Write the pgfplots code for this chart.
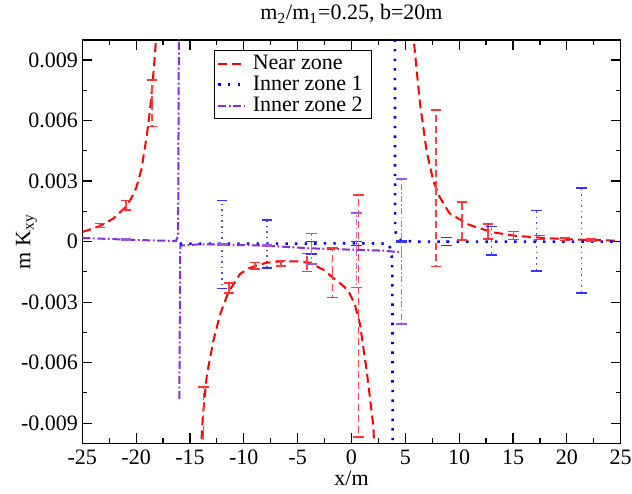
\documentclass[border=0pt]{standalone}
\usepackage{pgfplots}
\pgfplotsset{compat=1.18}
\usepackage{fontspec}
\setmainfont{Liberation Serif}
\definecolor{zonetwo}{RGB}{138,43,226}

\begin{document}
\fontsize{11}{13}\selectfont
\begin{tikzpicture}
\useasboundingbox (-41.15pt,-24.85pt) rectangle (274.85pt,221.65pt);
\begin{axis}[
    at={(0,0)}, anchor=south west,
    scale only axis, width=269.2pt, height=201.7pt,
    xmin=-25, xmax=25, ymin=-0.01, ymax=0.01,
    xtick={-25,-20,-15,-10,-5,0,5,10,15,20,25},
    xticklabels={-25,-20,-15,-10,-5,0,5,10,15,20,25},
    ytick={-0.009,-0.006,-0.003,0,0.003,0.006,0.009},
    yticklabels={-0.009,-0.006,-0.003,0,0.003,0.006,0.009},
    scaled y ticks=false, scaled x ticks=false,
    minor x tick num=1, minor y tick num=1,
    tick align=inside,
    major tick length=5pt, minor tick length=2.5pt,
    axis line style={line width=0.75pt},
    every tick/.style={black, line width=0.6pt},
    yticklabel style={inner xsep=2pt},
    xticklabel style={inner ysep=3pt},
    xlabel={x/m},
    ylabel={m K\textsubscript{xy}},
    xlabel style={at={(axis description cs:0.5,0)}, anchor=base, yshift=-20.85pt},
    ylabel style={at={(axis description cs:-0.0966,0.5)}, anchor=base},
    unbounded coords=jump,
    legend style={at={(axis description cs:0.2446,0.9752)}, anchor=north west,
        draw=black, line width=0.6pt, inner sep=1.3pt,
        nodes={inner xsep=3pt, inner ysep=0.8pt}},
    legend cell align=left,
    legend image code/.code={\draw[#1] (0pt,0pt) -- (13.5pt,0pt);},
    every errbar/.style={only marks, mark=-, mark size=0pt, forget plot,
        mark options={draw opacity=0}},
]
% near zone curve
\addplot[red, line width=1pt, dash pattern=on 4.5pt off 2.5pt] coordinates {
    (-25,0.00048) (-24.5,0.00056) (-23.3,0.00079) (-22.1,0.00115) (-21.0,0.00170)
    (-20.5,0.00210) (-20.0,0.00265) (-19.5,0.0036) (-19.0,0.0053) (-18.7,0.0066)
    (-18.45,0.0080) (-18.25,0.0093) (-18.1,0.0105)
    (-16,nan)
    (-14.0,-0.0105) (-13.8,-0.0086) (-13.43,-0.0066) (-12.82,-0.0049) (-12.2,-0.0036)
    (-11.43,-0.0025) (-10.34,-0.0016) (-9.5,-0.00132) (-8.9,-0.0012) (-7.9,-0.00105)
    (-6.5,-0.00097) (-5.0,-0.00098) (-3.85,-0.00106) (-2.6,-0.0014) (-1.7,-0.0018)
    (-0.76,-0.0022) (-0.3,-0.00244) (0.3,-0.0031) (0.79,-0.0041) (1.41,-0.0064)
    (2.02,-0.0091) (2.15,-0.0105)
    (4,nan)
    (5.7,0.0105) (5.8,0.0099) (6.05,0.0085) (6.35,0.0069) (6.97,0.0045) (7.6,0.0030)
    (8.2,0.0022) (9.1,0.0014) (10.0,0.00112) (10.7,0.00088) (11.6,0.00071)
    (13.15,0.00046) (15.0,0.0003) (17.8,0.00018) (20.9,0.0001) (25,0.00004)
};
\addlegendentry{Near zone}
% inner zone 1 curve
\addplot[blue, line width=1.3pt, dash pattern=on 1.2pt off 3.6pt] coordinates {
    (-15.95,-0.0001) (-10,-0.0001) (-5,-0.0001) (0,-0.00008) (3.4,-0.0001)
    (3.57,-0.00028) (3.73,-0.0007) (3.8,-0.0015) (3.82,-0.0105)
    (3.9,nan)
    (4.03,0.0105) (4.05,0.0006) (4.2,0.0002) (4.6,0.00005) (6,0.0) (25,0.0)
};
\addlegendentry{Inner zone 1}
% inner zone 2 curve
\addplot[zonetwo, line width=1pt, dash pattern=on 4pt off 1.3pt on 0.9pt off 1.3pt] coordinates {
    (-25,0.00018) (-21,0.0001) (-18,0.00005) (-16.3,0.00003) (-16.1,0.0003) (-16.03,0.0105)
    (-16,nan)
    (-15.99,-0.0078) (-15.9,-0.0002) (-14,-0.00013) (-12,-0.00015) (-8,-0.0002)
    (-4,-0.00033) (0,-0.0004) (3,-0.00045) (4.5,-0.00053)
};
\addlegendentry{Inner zone 2}
% error bars, near zone
\addplot[every errbar, red,
    error bars/.cd, y dir=both, y explicit,
    error bar style={draw=red!75, line width=0.8pt, dash pattern=on 3.5pt off 2pt},
    error mark=|,
    error mark options={draw=red!80, draw opacity=1, solid, line width=0.8pt, mark size=2.6pt}]
coordinates {
    (-23.35,0.0008) +- (0,0.0001)
    (-20.95,0.0018) +- (0,0.00023)
    (-18.55,0.00685) +- (0,0.00115)
    (-13.75,-0.0095) +- (0,0.0023)
    (-11.35,-0.0023) +- (0,0.00025)
    (-8.95,-0.0012) +- (0,0.00017)
    (-6.55,-0.00107) +- (0,0.00013)
    (-4.15,-0.00104) +- (0,0.00045)
    (-1.75,-0.00155) +- (0,0.00122)
    (0.65,-0.0037) +- (0,0.006)
    (7.85,0.00264) +- (0,0.00388)
    (10.25,0.00102) +- (0,0.00094)
    (12.65,0.0005) +- (0,0.00037)
    (15.05,0.0003) +- (0,0.0002)
    (17.45,0.0002) +- (0,0.0001)
    (19.85,0.00012) +- (0,0.00006)
    (22.25,0.00008) +- (0,0.00004)
};
% error bars, inner zone 1
\addplot[every errbar, blue,
    error bars/.cd, y dir=both, y explicit,
    error bar style={draw=blue!70, line width=0.8pt, dash pattern=on 0.8pt off 2pt},
    error mark=|,
    error mark options={draw=blue!80, draw opacity=1, solid, line width=0.8pt, mark size=2.6pt}]
coordinates {
    (-12.05,-0.00014) +- (0,0.00218)
    (-7.87,-0.00012) +- (0,0.0012)
    (-3.7,-0.0003) +- (0,0.0003)
    (0.48,-0.0001) +- (0,0.0001)
    (4.65,0.0) +- (0,0.00003)
    (8.83,0.0) +- (0,0.0002)
    (13.0,0.00004) +- (0,0.0007)
    (17.18,0.00005) +- (0,0.0015)
    (21.35,0.00006) +- (0,0.0026)
};
% error bars, inner zone 2
\addplot[every errbar, zonetwo,
    error bars/.cd, y dir=both, y explicit,
    error bar style={draw=zonetwo!70, line width=0.8pt, dash pattern=on 3pt off 1.2pt on 0.8pt off 1.2pt},
    error mark=|,
    error mark options={draw=zonetwo!80, draw opacity=1, solid, line width=0.8pt, mark size=2.6pt}]
coordinates {
    (-20.95,0.0001) +- (0,0.00003)
    (-12.05,-0.00015) +- (0,0.00003)
    (-7.87,-0.0002) +- (0,0.00003)
    (-3.7,-0.00035) +- (0,0.00076)
    (0.48,-0.00043) +- (0,0.00185)
    (4.65,-0.0005) +- (0,0.0036)
};
\end{axis}
\node[anchor=base] at (134.6pt,211.7pt) {m\textsubscript{2}/m\textsubscript{1}=0.25, b=20m};
\end{tikzpicture}
\end{document}
